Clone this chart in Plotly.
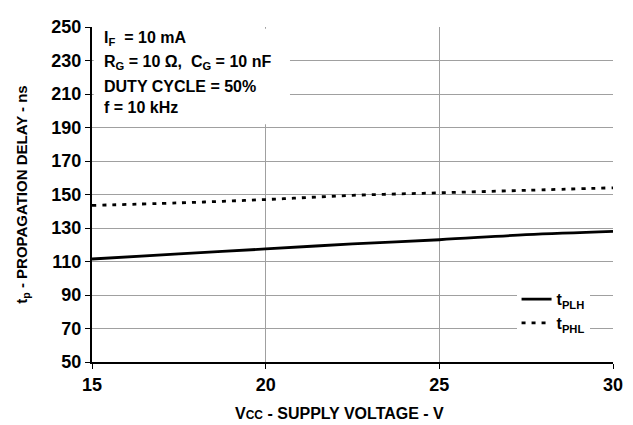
import plotly.graph_objects as go

vcc = [15, 17.5, 20, 22.5, 25, 27.5, 30]
t_plh = [111.5, 114.5, 117.5, 120.5, 123, 126, 128]
t_phl = [143.5, 145, 147, 149.5, 151, 152.5, 154]

x_ticks = [15, 20, 25, 30]
y_ticks = [50, 70, 90, 110, 130, 150, 170, 190, 210, 230, 250]

info_lines = [
    "<b>I<sub>F</sub>  = 10 mA</b>",
    "<b>R<sub>G</sub> = 10 Ω,  C<sub>G</sub> = 10 nF</b>",
    "<b>DUTY CYCLE = 50%</b>",
    "<b>f = 10 kHz</b>",
]
info_y = [0.967, 0.895, 0.822, 0.760]

x_title = "<b>V<span style='font-size:12px'>CC</span> - SUPPLY VOLTAGE - V</b>"
y_title = "<b>t<sub>p</sub> - PROPAGATION DELAY - ns</b>"

FONT = "Liberation Sans"

fig = go.Figure()
fig.add_trace(go.Scatter(x=vcc, y=t_plh, mode="lines", name="<b>t<sub>PLH</sub></b>",
                         line=dict(color="black", width=2.8, shape="spline")))
fig.add_trace(go.Scatter(x=vcc, y=t_phl, mode="lines", name="<b>t<sub>PHL</sub></b>",
                         line=dict(color="black", width=2.8, dash="4px,6px", shape="spline")))

# page body adds an 8px offset; compensate so the plot area sits at x 92-613, y 17-362
fig.update_layout(
    width=625, height=417,
    margin=dict(l=84, r=20, t=9, b=63),
    plot_bgcolor="white", paper_bgcolor="white",
    font=dict(family=FONT, size=16, color="black"),
    showlegend=True,
    legend=dict(x=0.955, y=0.065, xanchor="right", yanchor="bottom",
                bgcolor="white", font=dict(size=16, family=FONT), tracegroupgap=0,
                itemwidth=30),
    xaxis=dict(range=[15, 30], tickvals=x_ticks, ticktext=[f"<b>{v}</b>" for v in x_ticks],
               showgrid=True, gridcolor="#a0a0a0", gridwidth=1,
               showline=True, linecolor="black", linewidth=2, mirror=False,
               ticks="outside", ticklen=5, tickcolor="black", zeroline=False,
               tickfont=dict(size=18, family=FONT), ticklabeloverflow="allow"),
    yaxis=dict(range=[50, 250], tickvals=y_ticks, ticktext=[f"<b>{v}</b>" for v in y_ticks],
               showgrid=True, gridcolor="#a0a0a0", gridwidth=1,
               showline=True, linecolor="black", linewidth=2,
               ticks="outside", ticklen=5, tickcolor="black", zeroline=False,
               tickfont=dict(size=18, family=FONT), ticklabeloverflow="allow",
               title=dict(text=y_title, font=dict(size=15, family=FONT), standoff=20)),
)

fig.add_shape(type="rect", xref="x", yref="y", x0=15.05, x1=20.7, y0=192, y1=249,
              fillcolor="white", line=dict(width=0), layer="above")
for txt, yy in zip(info_lines, info_y):
    fig.add_annotation(xref="paper", yref="paper", x=0.02, y=yy, xanchor="left", yanchor="middle",
                       align="left", showarrow=False, text=txt,
                       font=dict(size=16, family=FONT))

fig.add_annotation(xref="paper", yref="paper", x=0.476, y=0, yshift=-51,
                   xanchor="center", yanchor="middle", showarrow=False,
                   text=x_title, font=dict(size=16, family=FONT))

fig.write_html("out.html")
